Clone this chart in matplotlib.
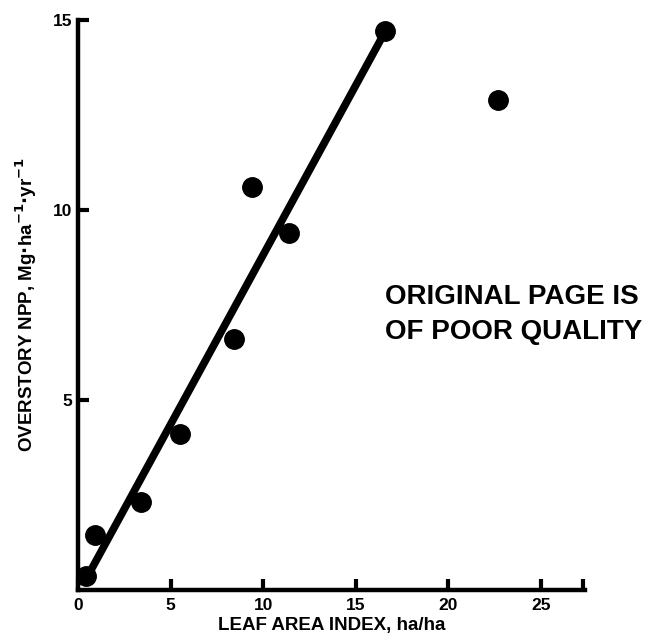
import matplotlib
matplotlib.use('Agg')
import matplotlib.pyplot as plt

# data
lai = [0.45, 0.9, 3.4, 5.5, 8.4, 9.4, 11.4, 16.6, 22.7]
npp = [0.35, 1.45, 2.3, 4.1, 6.6, 10.6, 9.4, 14.7, 12.9]

# hand-drawn regression line endpoints
fit_x = [0.45, 16.6]
fit_y = [0.3, 14.7]

xticks = [0, 5, 10, 15, 20, 25]
yticks = [5, 10, 15]

plt.rcParams['font.family'] = ['Liberation Sans', 'DejaVu Sans']
plt.rcParams['font.weight'] = 'bold'

fig = plt.figure(figsize=(6.62, 6.39), dpi=100)
ax = fig.add_axes([0.118, 0.077, 0.766, 0.892])

ax.plot(fit_x, fit_y, color='black', lw=5.5, solid_capstyle='butt', zorder=2)
ax.plot(lai, npp, 'o', color='black', ms=14, zorder=3)

ax.set_xlim(0, 27.4)
ax.set_ylim(0, 15)

ax.spines['right'].set_color('none')
ax.spines['top'].set_color('none')
ax.spines['left'].set_linewidth(3.2)
ax.spines['bottom'].set_linewidth(3.2)

ax.set_xticks(xticks)
ax.set_xticklabels([str(t) for t in xticks], fontsize=12.5, fontweight='bold')
ax.set_xticks([27.3], minor=True)
ax.set_yticks(yticks)
ax.set_yticklabels([str(t) for t in yticks], fontsize=12.5, fontweight='bold')
ax.tick_params(axis='both', which='both', direction='in', length=8, width=3)
ax.tick_params(axis='x', pad=6)
ax.tick_params(axis='y', pad=4)

ax.set_xlabel('LEAF AREA INDEX, ha/ha', fontsize=13.5, fontweight='bold', labelpad=3)
ax.set_ylabel(r'OVERSTORY NPP, Mg$\cdot$ha$^{-1}$$\cdot$yr$^{-1}$',
              fontsize=13.5, fontweight='bold', labelpad=10)

fig.text(0.582, 0.525, "ORIGINAL PAGE IS", fontsize=20, fontweight='bold')
fig.text(0.582, 0.47, "OF POOR QUALITY", fontsize=20, fontweight='bold')

fig.savefig('out.png', dpi=100)
